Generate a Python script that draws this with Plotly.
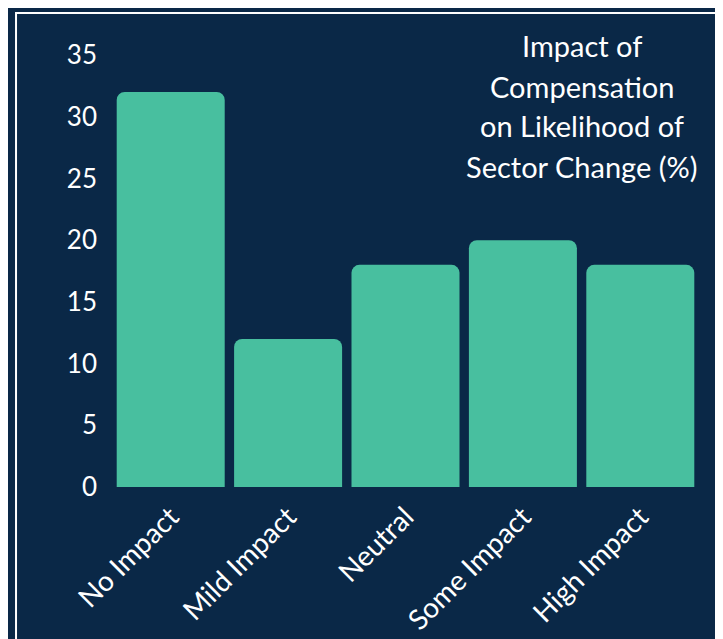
import plotly.graph_objects as go

categories = ["No Impact", "Mild Impact", "Neutral", "Some Impact", "High Impact"]
values = [32, 12, 18, 20, 18]
y_ticks = [0, 5, 10, 15, 20, 25, 30, 35]
title_lines = ["Impact of", "Compensation", "on Likelihood of", "Sector Change (%)"]
title_line_y = [1.021, 0.928, 0.836, 0.743]

BG = "#0a2847"
BAR = "#48bf9f"

fig = go.Figure()
fig.add_trace(go.Bar(
    x=categories, y=values,
    marker=dict(color=BAR, line=dict(width=0), cornerradius=8),
    hoverinfo="x+y",
))

annotations = [
    dict(text=t, xref="paper", yref="paper", x=0.80, y=yy,
         xanchor="center", yanchor="middle", showarrow=False, align="center",
         font=dict(size=29, color="white", family="Lato"))
    for t, yy in zip(title_lines, title_line_y)
]

fig.update_layout(
    width=723, height=639,
    paper_bgcolor=BG, plot_bgcolor=BG,
    margin=dict(l=104, r=32, t=47, b=160, pad=0),
    font=dict(family="Lato", color="white", size=26),
    bargap=0.08,
    showlegend=False,
    xaxis=dict(showgrid=False, zeroline=False, showline=False, tickangle=-45,
               ticks="", ticklabelstandoff=7, tickfont=dict(size=28)),
    yaxis=dict(range=[0, 35], tickvals=y_ticks, showgrid=False, zeroline=False,
               showline=False, ticks="", ticklabelstandoff=14,
               tickfont=dict(size=26)),
    annotations=annotations,
    shapes=[dict(
        type="rect", xref="paper", yref="paper",
        x0=-0.1635, x1=1.0358, y0=-0.45, y1=1.097,
        line=dict(color="white", width=2), fillcolor="rgba(0,0,0,0)", layer="below",
    )],
)

fig.write_html("out.html")
